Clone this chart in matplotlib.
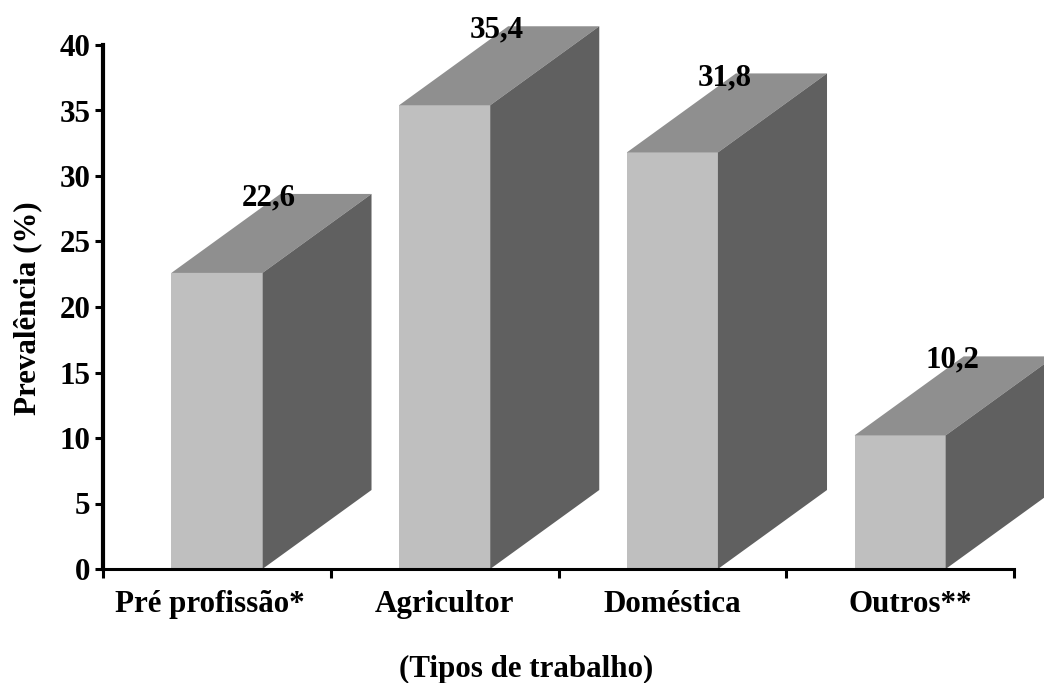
# -*- coding: utf-8 -*-
# Prevalence by type of work, drawn as pseudo-3D bars.

import matplotlib
matplotlib.use("Agg")
import matplotlib.pyplot as plt

plt.rcParams["font.family"] = ["Liberation Serif", "DejaVu Serif"]
plt.rcParams["font.weight"] = "bold"

categories = ["Pré profissão*", "Agricultor", "Doméstica", "Outros**"]
values = [22.6, 35.4, 31.8, 10.2]
value_labels = ["22,6", "35,4", "31,8", "10,2"]
y_ticks = [0, 5, 10, 15, 20, 25, 30, 35, 40]

BAR_W = 0.40
DEPTH_X = 0.479
DEPTH_Y = 6.03
FRONT = "#bfbfbf"
TOP = "#8f8f8f"
SIDE = "#606060"
FONT_SIZE = 22.3
LABEL_SHIFT = [-0.03, 0.0, 0.0, 0.045]  # category labels are not quite centred
W, H = 1044, 683

fig = plt.figure(figsize=(W / 100, H / 100), dpi=100)
ax = fig.add_axes([103 / W, 1 - 569 / H, (1014 - 103) / W, (569 - 45) / H])
ax.set_xlim(-0.5, 3.5)
ax.set_ylim(0, 40)

for i, (val, lab) in enumerate(zip(values, value_labels)):
    x0 = i - BAR_W / 2
    x1 = i + BAR_W / 2
    ax.fill([x0, x1, x1, x0], [0, 0, val, val], color=FRONT, lw=0, clip_on=False, zorder=2)
    ax.fill([x0, x1, x1 + DEPTH_X, x0 + DEPTH_X], [val, val, val + DEPTH_Y, val + DEPTH_Y],
            color=TOP, lw=0, clip_on=False, zorder=2)
    ax.fill([x1, x1 + DEPTH_X, x1 + DEPTH_X, x1],
            [0, DEPTH_Y, val + DEPTH_Y, val],
            color=SIDE, lw=0, clip_on=False, zorder=2)
    ax.annotate(lab, (i, val), xytext=(37.5, 54.0), textcoords="offset points",
                ha="center", va="center", fontsize=FONT_SIZE, fontweight="bold",
                annotation_clip=False, zorder=5)

for side in ("top", "right"):
    ax.spines[side].set_visible(False)
ax.spines["left"].set_linewidth(3.0)
ax.spines["bottom"].set_linewidth(2.2)
ax.spines["left"].set_zorder(4)
ax.spines["bottom"].set_zorder(4)

# Ticks sit on the group boundaries, labels stay under the bars
ax.set_xticks([-0.5, 0.5, 1.5, 2.5, 3.5])
ax.set_xticklabels([])
ax.set_xticks([i + s for i, s in enumerate(LABEL_SHIFT)], minor=True)
ax.set_xticklabels(categories, minor=True, fontsize=FONT_SIZE, fontweight="bold")
ax.tick_params(axis="x", which="major", length=6.5, width=2.2)
ax.tick_params(axis="x", which="minor", length=0, pad=15)
ax.set_yticks(y_ticks)
ax.set_yticklabels([str(t) for t in y_ticks], fontsize=FONT_SIZE, fontweight="bold")
ax.tick_params(axis="y", length=6, width=2.2, pad=3)

fig.text(28 / W, 1 - 308 / H, "Prevalência (%)", rotation=90, ha="center", va="center",
         fontsize=FONT_SIZE, fontweight="bold")
fig.text(526 / W, 1 - 669 / H, "(Tipos de trabalho)", ha="center", va="center",
         fontsize=FONT_SIZE, fontweight="bold")

fig.savefig("out.png", dpi=100)
plt.close(fig)
